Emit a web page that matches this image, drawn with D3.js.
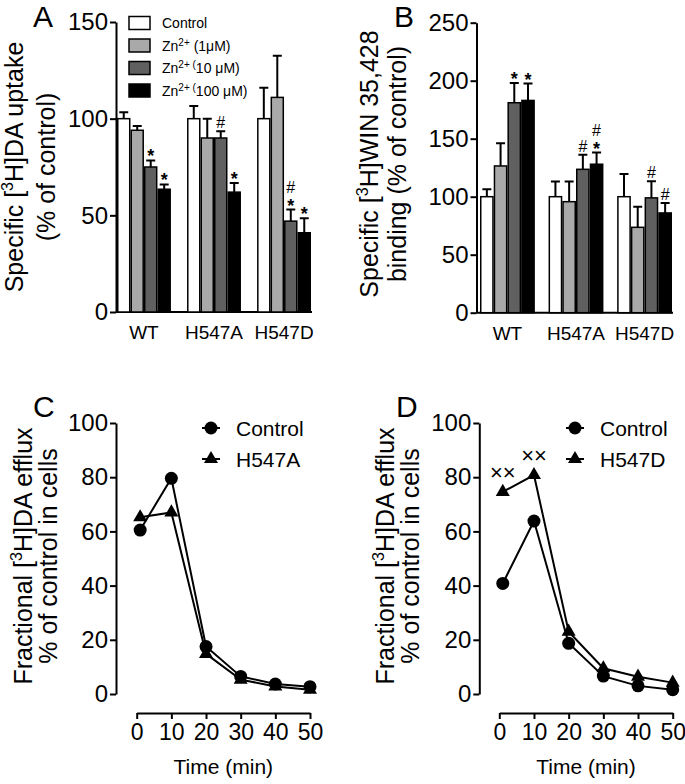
<!DOCTYPE html>
<html>
<head>
<meta charset="utf-8">
<script src="https://cdn.jsdelivr.net/npm/d3@7"></script>
<style>
body { margin: 0; background: #fff; }
svg { font-family: "Liberation Sans", Arial, sans-serif; }
</style>
</head>
<body>
<svg id="fig" width="685" height="784"></svg>
<script>
// ---- data ----
var groups = ["WT", "H547A", "H547D"];
var treatments = ["Control", "Zn1", "Zn10", "Zn100"];
var treatmentColors = ["#ffffff", "#a9a9a9", "#606060", "#000000"];

// panel A: specific [3H]DA uptake (% of control)
var uptakeMean = [[100, 94, 75, 63.5], [100, 90, 90, 62], [100, 111, 47, 41]];
var uptakeErr = [[3.3, 2.2, 3.4, 2.5], [6.6, 10, 3.5, 4.7], [16, 21.5, 6, 7.5]];
var uptakeMarks = [[[], [], ["*"], ["*"]], [[], [], ["#"], ["*"]], [[], [], ["*", "#"], ["*"]]];

// panel B: specific [3H]WIN 35,428 binding (% of control)
var bindingMean = [[100, 126.5, 181, 183], [100, 95.7, 123.6, 128], [100, 73.6, 99, 86]];
var bindingErr = [[6.5, 19.5, 17, 14.5], [13, 17.3, 12.5, 10], [19.6, 17.8, 14.4, 8.6]];
var bindingMarks = [[[], [], ["*"], ["*"]], [[], [], ["#"], ["*", "#"]], [[], [], ["#"], ["#"]]];

// panels C and D: fractional efflux over time
var times = [1, 10, 20, 30, 40, 50];
var effluxControlC = [60.5, 79.6, 17.5, 6.5, 3.7, 2.7];
var effluxH547A = [65.2, 67, 14.8, 5.3, 2.8, 1.6];
var effluxControlD = [40.8, 63.8, 18.7, 6.6, 3, 1.6];
var effluxH547D = [74.6, 80.8, 23, 9.5, 6.4, 4.2];
var effluxH547DMarks = ["××", "××", "", "", "", ""];

var svg = d3.select("#fig");

// writes [text, isSuperscript] pieces into a text element
function richText(sel, parts, supSize, lift) {
  var up = false;
  parts.forEach(function (p) {
    var t = sel.append("tspan").text(p[0]);
    if (p[1] && !up) { t.attr("dy", -lift).style("font-size", supSize + "px"); up = true; }
    else if (p[1]) { t.style("font-size", supSize + "px"); }
    else if (up) { t.attr("dy", lift); up = false; }
  });
}

function styleAxis(g, fontSize) {
  g.select(".domain").attr("stroke", "#000").attr("stroke-width", 2);
  g.selectAll(".tick line").attr("stroke", "#000").attr("stroke-width", 2);
  g.selectAll(".tick text").attr("fill", "#000").style("font-size", fontSize + "px");
}

function yTitle(x0, x1, yc, line1, line2) {
  var t1 = svg.append("text")
    .attr("transform", "translate(" + x0 + "," + yc + ") rotate(-90)")
    .attr("text-anchor", "middle")
    .style("font-size", "25px");
  richText(t1, line1, 16, 10);
  var t2 = svg.append("text")
    .attr("transform", "translate(" + x1 + "," + yc + ") rotate(-90)")
    .attr("text-anchor", "middle")
    .style("font-size", "25px");
  richText(t2, line2, 16, 10);
}

function barPanel(p) {
  var y = d3.scaleLinear().domain([0, p.yMax]).range([p.bottom, p.top]);
  var xg = d3.scaleBand().domain(groups).range(p.band).paddingInner(p.pad);
  var xs = d3.scaleBand().domain(treatments).range([0, xg.bandwidth()]);

  var ax = svg.append("g")
    .attr("transform", "translate(" + p.axisX + ",0)")
    .call(d3.axisLeft(y).tickValues(p.ticks).tickSize(6).tickSizeOuter(0).tickPadding(2));
  styleAxis(ax, 24);

  svg.append("line")
    .attr("x1", p.axisX).attr("x2", p.band[1] + 1)
    .attr("y1", y(0)).attr("y2", y(0))
    .attr("stroke", "#000").attr("stroke-width", 2);

  groups.forEach(function (g, gi) {
    var cell = svg.append("g").attr("transform", "translate(" + xg(g) + ",0)");
    var rows = treatments.map(function (t, i) {
      return { t: t, i: i, mean: p.mean[gi][i], err: p.err[gi][i], marks: p.marks[gi][i] };
    });

    // error bars first so the bar outline sits on top of the stem
    cell.selectAll(".err")
      .data(rows).enter().append("path")
      .attr("class", "err")
      .attr("d", function (d) {
        var cx = xs(d.t) + xs.bandwidth() / 2;
        return "M" + cx + "," + y(d.mean) + "V" + y(d.mean + d.err) +
          "M" + (cx - 4.5) + "," + y(d.mean + d.err) + "H" + (cx + 4.5);
      })
      .attr("stroke", "#000").attr("stroke-width", 2).attr("fill", "none");

    cell.selectAll("rect")
      .data(rows).enter().append("rect")
      .attr("x", function (d) { return xs(d.t) + 0.75; })
      .attr("width", xs.bandwidth() - 1.5)
      .attr("y", function (d) { return y(d.mean); })
      .attr("height", function (d) { return y(0) - y(d.mean); })
      .attr("fill", function (d) { return treatmentColors[d.i]; })
      .attr("stroke", "#000").attr("stroke-width", 1.5);

    rows.forEach(function (d) {
      d.marks.forEach(function (m, k) {
        var cy = y(d.mean + d.err) - 9 - k * 14;
        cell.append("text")
          .attr("x", xs(d.t) + xs.bandwidth() / 2)
          .attr("y", cy + (m === "*" ? 11 : 6))
          .attr("text-anchor", "middle")
          .style("font-size", m === "*" ? "18px" : "16px")
          .style("font-weight", m === "*" ? "bold" : "normal")
          .text(m);
      });
    });

    svg.append("text")
      .attr("x", xg(g) + xg.bandwidth() / 2)
      .attr("y", y(0) + 27)
      .attr("text-anchor", "middle")
      .style("font-size", "19px")
      .text(g);
  });

  svg.append("text")
    .attr("x", p.letterX).attr("y", 27)
    .style("font-size", "30px")
    .text(p.letter);
}

function linePanel(p) {
  var y = d3.scaleLinear().domain([0, 100]).range([694, 423]);
  var x = d3.scaleLinear().domain([0, 50]).range(p.xRange);

  var ay = svg.append("g")
    .attr("transform", "translate(" + p.axisX + ",0)")
    .call(d3.axisLeft(y).tickValues([0, 20, 40, 60, 80, 100]).tickSize(6).tickSizeOuter(0).tickPadding(2));
  styleAxis(ay, 24);

  var axx = svg.append("g")
    .attr("transform", "translate(0,713)")
    .call(d3.axisBottom(x).tickValues([0, 10, 20, 30, 40, 50]).tickSize(6).tickSizeOuter(0).tickPadding(5));
  styleAxis(axx, 23);

  svg.append("text")
    .attr("x", (p.xRange[0] + p.xRange[1]) / 2).attr("y", 774)
    .attr("text-anchor", "middle")
    .style("font-size", "21px")
    .text("Time (min)");

  var line = d3.line()
    .x(function (d, i) { return x(times[i]); })
    .y(function (d) { return y(d); });

  [p.control, p.mutant].forEach(function (s) {
    svg.append("path").attr("d", line(s))
      .attr("fill", "none").attr("stroke", "#000").attr("stroke-width", 2);
  });

  var tri = d3.symbol().type(d3.symbolTriangle).size(85);

  svg.append("g").selectAll("path")
    .data(p.mutant).enter().append("path")
    .attr("d", tri)
    .attr("transform", function (d, i) { return "translate(" + x(times[i]) + "," + y(d) + ")"; })
    .attr("fill", "#000");

  svg.append("g").selectAll("circle")
    .data(p.control).enter().append("circle")
    .attr("cx", function (d, i) { return x(times[i]); })
    .attr("cy", function (d) { return y(d); })
    .attr("r", 6.5)
    .attr("fill", "#000");

  if (p.marks) {
    svg.append("g").selectAll("text")
      .data(p.marks).enter().append("text")
      .attr("x", function (d, i) { return x(times[i]); })
      .attr("y", function (d, i) { return y(p.mutant[i]) - 12; })
      .attr("text-anchor", "middle")
      .style("font-size", "22px")
      .text(function (d) { return d; });
  }

  // legend
  var legend = [{ label: "Control", sym: "circle" }, { label: p.mutantLabel, sym: "tri" }];
  legend.forEach(function (l, i) {
    var ly = 428 + i * 31;
    svg.append("line")
      .attr("x1", p.legendX - 9).attr("x2", p.legendX + 9)
      .attr("y1", ly).attr("y2", ly)
      .attr("stroke", "#000").attr("stroke-width", 2);
    if (l.sym === "circle") {
      svg.append("circle").attr("cx", p.legendX).attr("cy", ly).attr("r", 6.5).attr("fill", "#000");
    } else {
      svg.append("path").attr("d", tri).attr("transform", "translate(" + p.legendX + "," + ly + ")").attr("fill", "#000");
    }
    svg.append("text")
      .attr("x", p.legendX + 25).attr("y", ly + 8)
      .style("font-size", "21px")
      .text(l.label);
  });

  svg.append("text")
    .attr("x", p.letterX).attr("y", 417)
    .style("font-size", "30px")
    .text(p.letter);
}

// ---- panel A ----
barPanel({
  letter: "A", letterX: 33,
  axisX: 116, yMax: 150, ticks: [0, 50, 100, 150], bottom: 312, top: 22,
  band: [117, 311], pad: 0.23,
  mean: uptakeMean, err: uptakeErr, marks: uptakeMarks
});
yTitle(23, 55, 167,
  [["Specific ["], ["3", 1], ["H]DA uptake"]],
  [["(% of control)"]]);

// legend for the bar panels
var legendRows = [
  [["Control"]],
  [["Zn"], ["2+", 1], [" (1\u03bcM)"]],
  [["Zn"], ["2+ (", 1], ["10 \u03bcM)"]],
  [["Zn"], ["2+ (", 1], ["100 \u03bcM)"]]
];
legendRows.forEach(function (r, i) {
  var ly = 23 + i * 22.5;
  svg.append("rect")
    .attr("x", 129).attr("y", ly - 6.5).attr("width", 21).attr("height", 13)
    .attr("fill", treatmentColors[i]).attr("stroke", "#000").attr("stroke-width", 1.5);
  var t = svg.append("text").attr("x", 162).attr("y", ly + 5).style("font-size", "14px");
  richText(t, r, 10, 5);
});

// ---- panel B ----
barPanel({
  letter: "B", letterX: 394,
  axisX: 476.5, yMax: 250, ticks: [0, 50, 100, 150, 200, 250], bottom: 312.7, top: 22.7,
  band: [480, 672], pad: 0.2,
  mean: bindingMean, err: bindingErr, marks: bindingMarks
});
yTitle(378, 406, 164,
  [["Specific ["], ["3", 1], ["H]WIN 35,428"]],
  [["binding  (% of control)"]]);

// ---- panel C ----
linePanel({
  letter: "C", letterX: 33, axisX: 116, xRange: [136.7, 310],
  control: effluxControlC, mutant: effluxH547A, mutantLabel: "H547A",
  legendX: 211
});
yTitle(32, 57, 556,
  [["Fractional ["], ["3", 1], ["H]DA efflux"]],
  [["% of control in cells"]]);

// ---- panel D ----
linePanel({
  letter: "D", letterX: 396, axisX: 479.3, xRange: [499.3, 672.7],
  control: effluxControlD, mutant: effluxH547D, mutantLabel: "H547D",
  marks: effluxH547DMarks, legendX: 575
});
yTitle(394, 419, 556,
  [["Fractional ["], ["3", 1], ["H]DA efflux"]],
  [["% of control in cells"]]);
</script>
</body>
</html>
